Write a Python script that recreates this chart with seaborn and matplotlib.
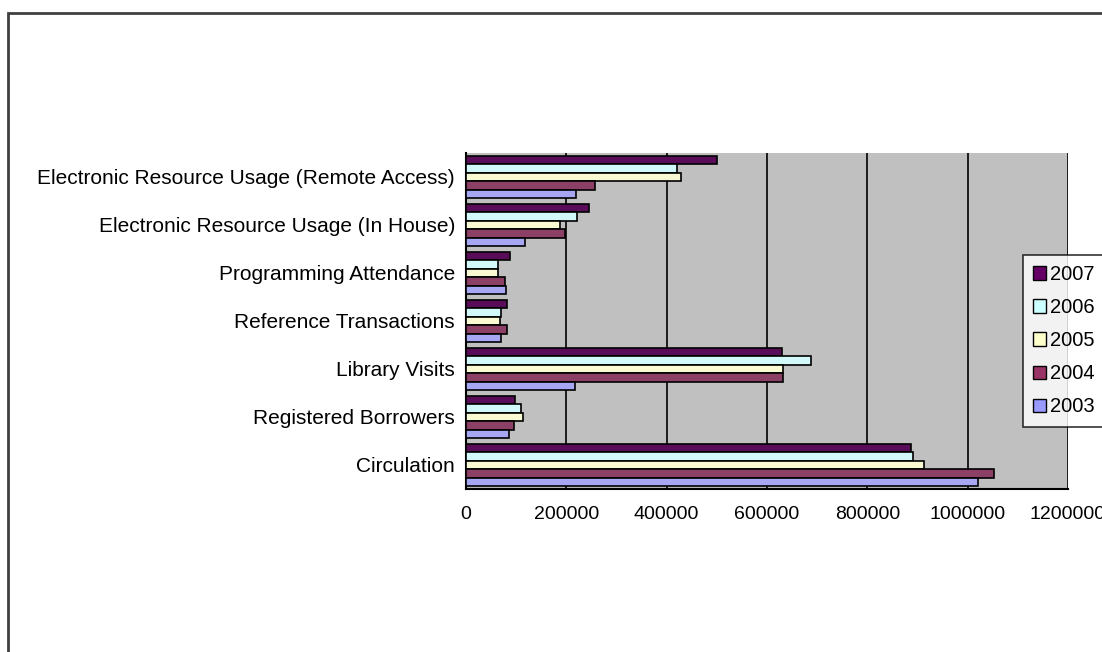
import matplotlib
matplotlib.use("Agg")
import matplotlib.pyplot as plt
import seaborn as sns
import pandas as pd
from matplotlib.patches import Rectangle, Patch
from matplotlib.ticker import FixedLocator

categories = [
    "Electronic Resource Usage (Remote Access)",
    "Electronic Resource Usage (In House)",
    "Programming Attendance",
    "Reference Transactions",
    "Library Visits",
    "Registered Borrowers",
    "Circulation",
]
years = ["2007", "2006", "2005", "2004", "2003"]
v2007 = [500000, 245000, 88000, 82000, 630000, 97000, 888000]
v2006 = [420000, 222000, 63000, 70000, 688000, 109000, 892000]
v2005 = [428000, 188000, 63000, 68000, 632000, 114000, 912000]
v2004 = [258000, 198000, 77000, 81000, 632000, 95000, 1052000]
v2003 = [220000, 118000, 79000, 70000, 218000, 85000, 1020000]
xticks = [0, 200000, 400000, 600000, 800000, 1000000, 1200000]

colors = {"2007": "#660066", "2006": "#CCFFFF", "2005": "#FFFFCC",
          "2004": "#993366", "2003": "#9999FF"}

series = {"2007": v2007, "2006": v2006, "2005": v2005, "2004": v2004, "2003": v2003}
rows = []
for y in years:
    for c, v in zip(categories, series[y]):
        rows.append({"Category": c, "Year": y, "Value": v})
df = pd.DataFrame(rows)

sns.set_style("white")
plt.rcParams["font.family"] = ["Liberation Sans", "DejaVu Sans"]
plt.rcParams["text.color"] = "black"
plt.rcParams["xtick.color"] = "black"
plt.rcParams["ytick.color"] = "black"
plt.rcParams["xtick.labelcolor"] = "black"
plt.rcParams["ytick.labelcolor"] = "black"

fig = plt.figure(figsize=(11.02, 6.52), dpi=100)
ax = fig.add_axes([466 / 1102, 1 - 489 / 652, (1068 - 466) / 1102, (489 - 153) / 652])
ax.set_facecolor("#C0C0C0")

sns.barplot(data=df, y="Category", x="Value", hue="Year", order=categories,
            hue_order=years, palette=colors, orient="h", width=0.88,
            edgecolor="black", linewidth=1.2, ax=ax, legend=False, zorder=3)

ax.set_xlim(0, 1200000)
ax.set_ylim(len(categories) - 0.5, -0.5)
ax.set_xticks(xticks)
ax.set_xticklabels([str(t) for t in xticks], fontsize=14)
ax.xaxis.grid(True, color="black", linewidth=1.2, zorder=1)
ax.yaxis.grid(False)
ax.set_axisbelow(True)
ax.set_xlabel("")
ax.set_ylabel("")
ax.tick_params(axis="y", which="major", length=0, labelsize=15, pad=8)
ax.yaxis.set_minor_locator(FixedLocator([i - 0.5 for i in range(len(categories) + 1)]))
ax.tick_params(axis="y", which="minor", length=6, width=1.2, color="black", direction="out")
ax.tick_params(axis="x", which="major", length=6, width=1.2, color="black", direction="out", pad=6)
for s in ["top", "right"]:
    ax.spines[s].set_visible(False)
for s in ["left", "bottom"]:
    ax.spines[s].set_color("black")
    ax.spines[s].set_linewidth(1.5)

handles = [Patch(facecolor=colors[y], edgecolor="black", label=y) for y in years]
leg = fig.legend(handles=handles, loc="upper left", bbox_to_anchor=(1023 / 1102, 1 - 255 / 652),
                 frameon=True, fontsize=14.5, handlelength=0.65, handleheight=0.65,
                 handletextpad=0.2, borderpad=0.5, labelspacing=0.7, fancybox=False,
                 borderaxespad=0)
leg.get_frame().set_edgecolor("black")
leg.get_frame().set_linewidth(1.2)

fig.patches.append(Rectangle((8 / 1102, -0.1), 1.2, 1 - 13 / 652 + 0.1, transform=fig.transFigure,
                             fill=False, edgecolor="#404040", linewidth=2, zorder=0))

fig.savefig("out.png", dpi=100)
